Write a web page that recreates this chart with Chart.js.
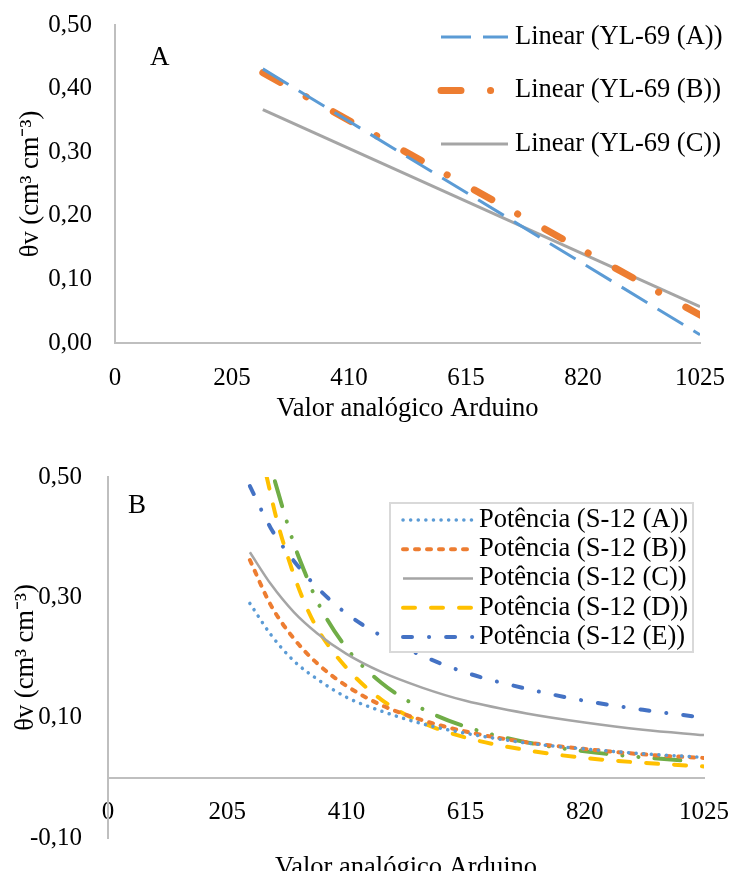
<!DOCTYPE html>
<html>
<head>
<meta charset="UTF-8">
<title>θv x Valor analógico Arduino</title>
<script src="https://cdn.jsdelivr.net/npm/chart.js"></script>
<style>
    body {
        margin: 0;
        background: #fff;
        width: 729px;
        height: 871px;
        overflow: hidden;
        position: relative;
    }

    canvas {
        position: absolute;
        left: 0;
    }

    #chartA { top: 0; }
    #chartB { top: 435px; }
</style>
</head>
<body>
<canvas id="chartA" width="729" height="430"></canvas>
<canvas id="chartB" width="729" height="436"></canvas>

<script>
    // eixos
    const xTicks = [0, 205, 410, 615, 820, 1025];
    const yTicksA = [0, 0.1, 0.2, 0.3, 0.4, 0.5];
    const yTicksB = [-0.1, 0.1, 0.3, 0.5];

    // painel A - tendências lineares YL-69
    const labelsA = ['Linear (YL-69 (A))', 'Linear (YL-69 (B))', 'Linear (YL-69 (C))'];
    const xA = [259, 1025];
    const yA_A = [0.431, 0.013];
    const yA_B = [0.425, 0.044];
    const yA_C = [0.367, 0.057];

    // painel B - tendências de potência S-12
    const labelsB = ['Potência (S-12 (A))', 'Potência (S-12 (B))', 'Potência (S-12 (C))',
                     'Potência (S-12 (D))', 'Potência (S-12 (E))', ''];
    const xB = [244, 280, 320, 360, 410, 470, 540, 615, 720, 820, 920, 1025];
    const yB_A = [0.290, 0.238, 0.194, 0.164, 0.134, 0.111, 0.090, 0.074, 0.058, 0.048, 0.040, 0.034];
    const yB_B = [0.362, 0.287, 0.231, 0.190, 0.153, 0.121, 0.096, 0.077, 0.059, 0.048, 0.039, 0.033];
    const yB_C = [0.375, 0.322, 0.275, 0.240, 0.206, 0.176, 0.150, 0.128, 0.107, 0.092, 0.080, 0.071];
    const yB_E = [0.485, 0.415, 0.360, 0.316, 0.273, 0.236, 0.203, 0.175, 0.148, 0.128, 0.113, 0.100];
    const xB_D = [273, 290, 310, 335, 360, 410, 470, 540, 615, 720, 820, 920, 1025];
    const yB_D = [0.500, 0.430, 0.365, 0.298, 0.248, 0.183, 0.130, 0.092, 0.067, 0.046, 0.033, 0.025, 0.019];
    const xB_F = [287, 300, 320, 340, 360, 410, 470, 540, 615, 720, 820, 920, 1000];
    const yB_F = [0.493, 0.450, 0.388, 0.338, 0.293, 0.216, 0.158, 0.115, 0.085, 0.059, 0.044, 0.034, 0.028];

    const serif = '"Liberation Serif", "Times New Roman", serif';
    Chart.defaults.font.family = serif;
    Chart.defaults.font.size = 25;
    Chart.defaults.color = '#000';

    const pts = (xs, ys) => xs.map((x, i) => ({ x: x, y: ys[i] }));
    const comma = v => v.toFixed(2).replace('.', ',');
    const titleFont = { size: 26.5 };

    // fixa o tamanho do eixo e tira o padding automático dos rótulos
    const fixSize = (prop, val) => s => {
        s[prop] = val;
        s.paddingLeft = s.paddingRight = s.paddingTop = s.paddingBottom = 0;
    };

    // letra do painel + legenda desenhada com o estilo de cada série
    const panelDecor = {
        id: 'panelDecor',
        afterDatasetsDraw(chart, args, opts) {
            const ctx = chart.ctx;
            ctx.save();
            ctx.fillStyle = '#000';
            ctx.font = '27px ' + serif;
            ctx.textAlign = 'left';
            ctx.textBaseline = 'alphabetic';
            ctx.fillText(opts.letter, opts.letterX, opts.letterY);

            if (opts.box) {
                const b = opts.box;
                ctx.fillStyle = '#fff';
                ctx.fillRect(b.x, b.y, b.w, b.h);
                ctx.strokeStyle = '#d9d9d9';
                ctx.lineWidth = 2;
                ctx.strokeRect(b.x, b.y, b.w, b.h);
            }

            opts.items.forEach((idx, i) => {
                const ds = chart.data.datasets[idx];
                const y = opts.y0 + i * opts.dy;
                ctx.strokeStyle = ds.borderColor;
                ctx.lineWidth = ds.borderWidth;
                ctx.lineCap = ds.borderCapStyle || 'butt';
                ctx.setLineDash(ds.borderDash || []);
                ctx.beginPath();
                ctx.moveTo(opts.lineX1, y);
                ctx.lineTo(opts.lineX2, y);
                ctx.stroke();
                ctx.setLineDash([]);
                ctx.fillStyle = '#000';
                ctx.font = '26.5px ' + serif;
                ctx.textBaseline = 'middle';
                ctx.fillText(ds.label, opts.textX, y);
            });
            ctx.restore();
        }
    };

    const axisBorder = { color: '#bfbfbf', width: 2 };
    const noGrid = { display: false, drawTicks: false };

    new Chart(document.getElementById('chartA'), {
        type: 'line',
        data: {
            datasets: [{
                label: labelsA[0],
                data: pts(xA, yA_A),
                borderColor: '#5B9BD5',
                borderWidth: 3,
                borderDash: [30, 12]
            }, {
                label: labelsA[1],
                data: pts(xA, yA_B),
                borderColor: '#ED7D31',
                borderWidth: 7,
                borderCapStyle: 'round',
                borderDash: [20, 29.5, 0.1, 31]
            }, {
                label: labelsA[2],
                data: pts(xA, yA_C),
                borderColor: '#A5A5A5',
                borderWidth: 3
            }]
        },
        options: {
            responsive: false,
            animation: false,
            elements: { point: { radius: 0 } },
            layout: { padding: { left: 0, right: 29, top: 25, bottom: 0 } },
            plugins: {
                legend: { display: false },
                tooltip: { enabled: false },
                panelDecor: {
                    letter: 'A', letterX: 150, letterY: 65,
                    items: [0, 1, 2], y0: 37, dy: 53.5,
                    lineX1: 441, lineX2: 508, textX: 515
                }
            },
            scales: {
                x: {
                    type: 'linear',
                    min: 0,
                    max: 1025,
                    afterBuildTicks: s => { s.ticks = xTicks.map(v => ({ value: v })); },
                    afterFit: fixSize('height', 87),
                    grid: noGrid,
                    border: axisBorder,
                    ticks: { padding: 20, maxRotation: 0, callback: v => String(v) },
                    title: { display: true, text: 'Valor analógico Arduino', font: titleFont, padding: { top: 0, bottom: 5 } }
                },
                y: {
                    min: 0,
                    max: 0.5,
                    afterBuildTicks: s => { s.ticks = yTicksA.map(v => ({ value: v })); },
                    afterFit: fixSize('width', 115),
                    grid: noGrid,
                    border: axisBorder,
                    ticks: { padding: 23, callback: v => comma(v) },
                    title: { display: true, text: 'θv (cm³ cm⁻³)', font: titleFont, padding: { top: 15, bottom: 0 } }
                }
            }
        },
        plugins: [panelDecor]
    });

    new Chart(document.getElementById('chartB'), {
        type: 'line',
        data: {
            datasets: [{
                label: labelsB[0],
                data: pts(xB, yB_A),
                borderColor: '#5B9BD5',
                borderWidth: 3.5,
                borderCapStyle: 'round',
                borderDash: [0.1, 7.5]
            }, {
                label: labelsB[1],
                data: pts(xB, yB_B),
                borderColor: '#ED7D31',
                borderWidth: 4,
                borderCapStyle: 'round',
                borderDash: [4, 8]
            }, {
                label: labelsB[2],
                data: pts(xB, yB_C),
                borderColor: '#A5A5A5',
                borderWidth: 2.5
            }, {
                label: labelsB[3],
                data: pts(xB_D, yB_D),
                borderColor: '#FFC000',
                borderWidth: 4,
                borderCapStyle: 'round',
                borderDash: [12, 16]
            }, {
                label: labelsB[4],
                data: pts(xB, yB_E),
                borderColor: '#4472C4',
                borderWidth: 4,
                borderCapStyle: 'round',
                borderDash: [9, 17, 0.1, 17]
            }, {
                label: labelsB[5],
                data: pts(xB_F, yB_F),
                borderColor: '#70AD47',
                borderWidth: 4,
                borderCapStyle: 'round',
                borderDash: [26, 16, 0.1, 16, 0.1, 16]
            }]
        },
        options: {
            responsive: false,
            animation: false,
            elements: { point: { radius: 0 }, line: { cubicInterpolationMode: 'monotone' } },
            layout: { padding: { left: 0, right: 25, top: 42, bottom: 33 } },
            plugins: {
                legend: { display: false },
                tooltip: { enabled: false },
                panelDecor: {
                    letter: 'B', letterX: 128, letterY: 78,
                    box: { x: 390, y: 68, w: 303, h: 149 },
                    items: [0, 1, 2, 3, 4], y0: 85, dy: 29.25,
                    lineX1: 403, lineX2: 473, textX: 479
                }
            },
            scales: {
                x: {
                    type: 'linear',
                    position: { y: 0 },
                    min: 0,
                    max: 1025,
                    afterBuildTicks: s => { s.ticks = xTicks.map(v => ({ value: v })); },
                    afterFit: fixSize('height', 106),
                    grid: noGrid,
                    border: axisBorder,
                    ticks: { padding: 20, maxRotation: 0, callback: v => String(v) },
                    title: { display: true, text: 'Valor analógico Arduino', font: titleFont, padding: { top: 0, bottom: 0 } }
                },
                y: {
                    min: -0.1,
                    max: 0.5,
                    afterBuildTicks: s => { s.ticks = yTicksB.map(v => ({ value: v })); },
                    afterFit: fixSize('width', 108),
                    grid: noGrid,
                    border: axisBorder,
                    ticks: { padding: 26, callback: v => comma(v) },
                    title: { display: true, text: 'θv (cm³ cm⁻³)', font: titleFont, padding: { top: 10, bottom: 0 } }
                }
            }
        },
        plugins: [panelDecor]
    });
</script>
</body>
</html>
